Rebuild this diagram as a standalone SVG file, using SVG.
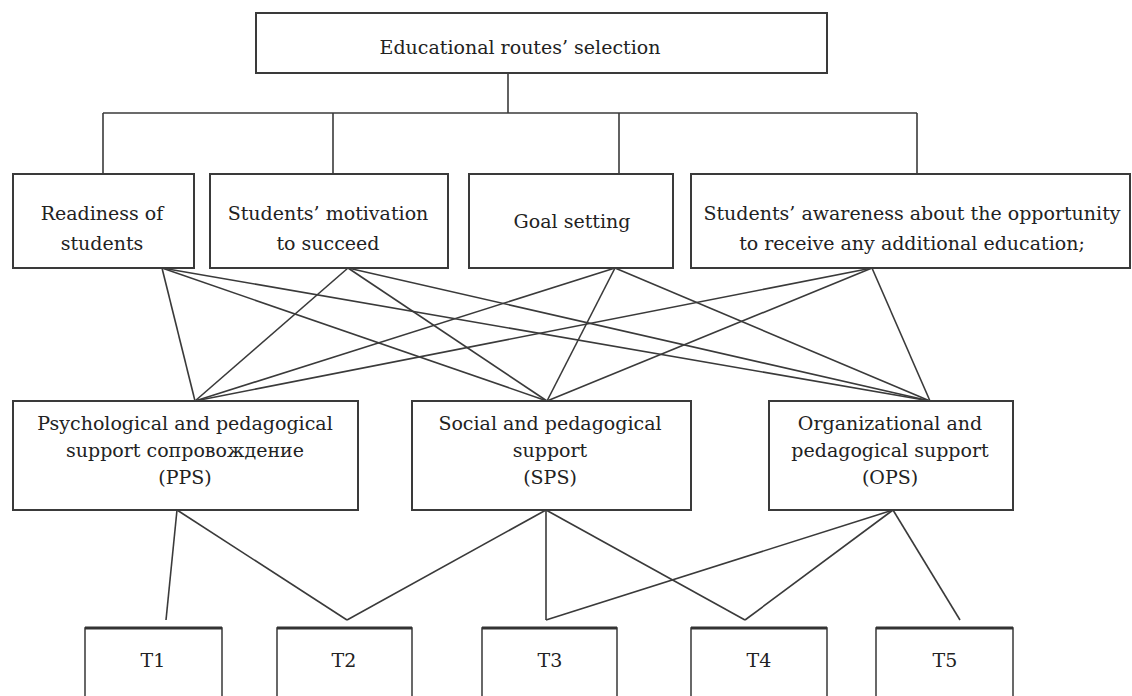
<svg xmlns="http://www.w3.org/2000/svg" width="1132" height="696" viewBox="0 0 1132 696">
<style>
.box{fill:#fff;stroke:#3a3a3a;stroke-width:2}
.tb{fill:#fff;stroke:#444;stroke-width:1.6}
.tt{stroke:#333;stroke-width:3}
.t{font-family:"DejaVu Serif","Liberation Serif",serif;font-size:19px;fill:#222;text-anchor:middle}
.c line,.c polyline{stroke:#3a3a3a;stroke-width:1.6;fill:none}
</style>
<rect width="1132" height="696" fill="#fff"/>
<g class="c" id="connectors">
<line x1="508" y1="73" x2="508" y2="113"/>
<line x1="103" y1="113" x2="917" y2="113"/>
<line x1="103" y1="113" x2="103" y2="174"/>
<line x1="333" y1="113" x2="333" y2="174"/>
<line x1="619" y1="113" x2="619" y2="174"/>
<line x1="917" y1="113" x2="917" y2="174"/>
<line x1="162" y1="268" x2="195" y2="401"/>
<line x1="162" y1="268" x2="547" y2="401"/>
<line x1="162" y1="268" x2="930" y2="401"/>
<line x1="348" y1="268" x2="195" y2="401"/>
<line x1="348" y1="268" x2="547" y2="401"/>
<line x1="348" y1="268" x2="930" y2="401"/>
<line x1="615" y1="268" x2="195" y2="401"/>
<line x1="615" y1="268" x2="547" y2="401"/>
<line x1="615" y1="268" x2="930" y2="401"/>
<line x1="872" y1="268" x2="195" y2="401"/>
<line x1="872" y1="268" x2="547" y2="401"/>
<line x1="872" y1="268" x2="930" y2="401"/>
<line x1="177" y1="510" x2="166" y2="620"/>
<line x1="177" y1="510" x2="347" y2="620"/>
<line x1="546" y1="510" x2="347" y2="620"/>
<line x1="546" y1="510" x2="546" y2="620"/>
<line x1="546" y1="510" x2="745" y2="620"/>
<line x1="893" y1="510" x2="546" y2="620"/>
<line x1="893" y1="510" x2="745" y2="620"/>
<line x1="893" y1="510" x2="960" y2="620"/>
</g>
<g id="root">
<rect class="box" x="256" y="13" width="571" height="60"/>
<text class="t" x="520" y="54">Educational routes’ selection</text>
</g>
<g id="readiness">
<rect class="box" x="13" y="174" width="181" height="94"/>
<text class="t" x="102" y="220">Readiness of</text>
<text class="t" x="102" y="250">students</text>
</g>
<g id="motivation">
<rect class="box" x="210" y="174" width="238" height="94"/>
<text class="t" x="328" y="220">Students’ motivation</text>
<text class="t" x="328" y="250">to succeed</text>
</g>
<g id="goal">
<rect class="box" x="469" y="174" width="204" height="94"/>
<text class="t" x="572" y="228">Goal setting</text>
</g>
<g id="awareness">
<rect class="box" x="691" y="174" width="439" height="94"/>
<text class="t" x="912" y="220">Students’ awareness about the opportunity</text>
<text class="t" x="912" y="250">to receive any additional education;</text>
</g>
<g id="pps">
<rect class="box" x="13" y="401" width="345" height="109"/>
<text class="t" x="185" y="430">Psychological and pedagogical</text>
<text class="t" x="185" y="457">support сопровождение</text>
<text class="t" x="185" y="484">(PPS)</text>
</g>
<g id="sps">
<rect class="box" x="412" y="401" width="279" height="109"/>
<text class="t" x="550" y="430">Social and pedagogical</text>
<text class="t" x="550" y="457">support</text>
<text class="t" x="550" y="484">(SPS)</text>
</g>
<g id="ops">
<rect class="box" x="769" y="401" width="244" height="109"/>
<text class="t" x="890" y="430">Organizational and</text>
<text class="t" x="890" y="457">pedagogical support</text>
<text class="t" x="890" y="484">(OPS)</text>
</g>
<g id="t1">
<rect class="tb" x="85" y="628" width="137" height="80"/>
<line class="tt" x1="85" y1="628" x2="222" y2="628"/>
<text class="t" x="153" y="667">T1</text>
</g>
<g id="t2">
<rect class="tb" x="277" y="628" width="135" height="80"/>
<line class="tt" x1="277" y1="628" x2="412" y2="628"/>
<text class="t" x="344" y="667">T2</text>
</g>
<g id="t3">
<rect class="tb" x="482" y="628" width="135" height="80"/>
<line class="tt" x1="482" y1="628" x2="617" y2="628"/>
<text class="t" x="550" y="667">T3</text>
</g>
<g id="t4">
<rect class="tb" x="691" y="628" width="136" height="80"/>
<line class="tt" x1="691" y1="628" x2="827" y2="628"/>
<text class="t" x="759" y="667">T4</text>
</g>
<g id="t5">
<rect class="tb" x="876" y="628" width="137" height="80"/>
<line class="tt" x1="876" y1="628" x2="1013" y2="628"/>
<text class="t" x="945" y="667">T5</text>
</g>
</svg>
